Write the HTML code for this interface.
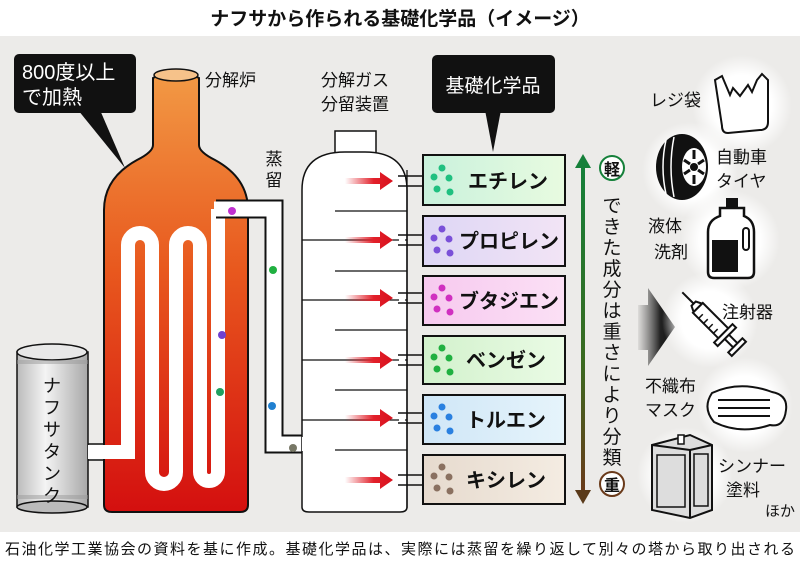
<!DOCTYPE html>
<html><head><meta charset="utf-8"><style>
html,body{margin:0;padding:0;background:#fff}
svg{display:block}
text{font-family:"Liberation Sans","Noto Sans CJK JP",sans-serif}
</style></head><body>
<svg width="800" height="563" viewBox="0 0 800 563" xmlns="http://www.w3.org/2000/svg">
<defs>
<linearGradient id="fur" x1="0" y1="0" x2="0" y2="1">
<stop offset="0" stop-color="#f29a45"/><stop offset="0.45" stop-color="#e8581e"/><stop offset="1" stop-color="#d40f0f"/></linearGradient>
<linearGradient id="tank" x1="0" y1="0" x2="1" y2="0">
<stop offset="0" stop-color="#bbb"/><stop offset="0.4" stop-color="#f4f4f4"/><stop offset="1" stop-color="#a8a8a8"/></linearGradient>
<linearGradient id="arr" x1="0" y1="0" x2="1" y2="0">
<stop offset="0" stop-color="#e2202a" stop-opacity="0"/><stop offset="0.6" stop-color="#e2202a"/><stop offset="1" stop-color="#d8101c"/></linearGradient>
<linearGradient id="gb" x1="0" y1="0" x2="0" y2="1">
<stop offset="0" stop-color="#15803a"/><stop offset="0.6" stop-color="#3a6a20"/><stop offset="1" stop-color="#6a3a1a"/></linearGradient>
<linearGradient id="dk" x1="0" y1="0" x2="1" y2="0">
<stop offset="0" stop-color="#555" stop-opacity="0.1"/><stop offset="0.6" stop-color="#222"/><stop offset="1" stop-color="#111"/></linearGradient>
<linearGradient id="b1" x1="0" y1="0" x2="1" y2="0"><stop offset="0" stop-color="#c9f1dc"/><stop offset="1" stop-color="#e8fbe0"/></linearGradient>
<linearGradient id="b2" x1="0" y1="0" x2="1" y2="0"><stop offset="0" stop-color="#ddd6f5"/><stop offset="1" stop-color="#f2e4f5"/></linearGradient>
<linearGradient id="b3" x1="0" y1="0" x2="1" y2="0"><stop offset="0" stop-color="#f7c9ef"/><stop offset="1" stop-color="#fbe0f5"/></linearGradient>
<linearGradient id="b4" x1="0" y1="0" x2="1" y2="0"><stop offset="0" stop-color="#d2f1cc"/><stop offset="1" stop-color="#eafbe5"/></linearGradient>
<linearGradient id="b5" x1="0" y1="0" x2="1" y2="0"><stop offset="0" stop-color="#cfe6f7"/><stop offset="1" stop-color="#e6f4fb"/></linearGradient>
<linearGradient id="b6" x1="0" y1="0" x2="1" y2="0"><stop offset="0" stop-color="#e6dace"/><stop offset="1" stop-color="#f4ece2"/></linearGradient>
<radialGradient id="blob"><stop offset="0.6" stop-color="#fff"/><stop offset="1" stop-color="#fff" stop-opacity="0"/></radialGradient>
</defs>
<rect width="800" height="563" fill="#fff"/>
<rect x="0" y="36" width="800" height="496" fill="#ecebe9"/>
<text x="400" y="25" font-size="19" font-weight="bold" text-anchor="middle" fill="#111">ナフサから作られる基礎化学品（イメージ）</text>

<!-- callout 800 -->
<rect x="14" y="54" width="122" height="59" rx="5" fill="#111"/>
<polygon points="78,110 100,110 125,168" fill="#111"/>
<text x="22" y="79" font-size="20" fill="#fff">800度以上</text>
<text x="22" y="104" font-size="20" fill="#fff">で加熱</text>

<!-- furnace -->
<path d="M153,78 Q176,66 199,78 L199,145 Q199,152 215,160 Q248,178 248,210 L248,505 Q248,512 240,512 L112,512 Q104,512 104,505 L104,210 Q104,178 137,160 Q153,152 153,145 Z" fill="url(#fur)" stroke="#111" stroke-width="2"/>
<ellipse cx="176" cy="75" rx="22" ry="6" fill="#f6c28a" stroke="#111" stroke-width="1.5"/>
<text x="205" y="86" font-size="17" fill="#111">分解炉</text>

<!-- coil -->
<path d="M88,452 H128 V245 A12,12 0 0 1 152,245 V472 A12,12 0 0 0 176,472 V245 A12,12 0 0 1 200,245 V472 A9,9 0 0 0 218,472 V209" fill="none" stroke="#fff" stroke-width="14"/>
<path d="M216,209 H274 V444 H312" fill="none" stroke="#111" stroke-width="19"/>
<path d="M214,209 H274 V444 H312" fill="none" stroke="#fff" stroke-width="15"/>

<!-- tank -->
<rect x="17" y="352" width="71" height="155" fill="url(#tank)" stroke="#111" stroke-width="1.5"/>
<ellipse cx="52" cy="352" rx="35" ry="8" fill="#e8e8e8" stroke="#111" stroke-width="1.5"/>
<rect x="17" y="360" width="71" height="4" fill="#999" opacity="0.5"/>
<rect x="17" y="495" width="71" height="4" fill="#999" opacity="0.5"/>
<ellipse cx="52" cy="507" rx="35" ry="6" fill="#bbb" stroke="#111" stroke-width="1.5"/>
<text font-size="18" fill="#111" text-anchor="middle">
<tspan x="52" y="392">ナ</tspan><tspan x="52" y="414">フ</tspan><tspan x="52" y="436">サ</tspan><tspan x="52" y="458">タ</tspan><tspan x="52" y="480">ン</tspan><tspan x="52" y="502">ク</tspan></text>
<rect x="88" y="445" width="20" height="14" fill="#fff"/>
<line x1="88" y1="444" x2="104" y2="444" stroke="#111" stroke-width="1.5"/>
<line x1="88" y1="460" x2="104" y2="460" stroke="#111" stroke-width="1.5"/>

<!-- dots on pipe -->
<circle cx="232" cy="211" r="4" fill="#c030d0"/>
<circle cx="273" cy="270" r="4" fill="#20b040"/>
<circle cx="222" cy="335" r="4" fill="#7040d0"/>
<circle cx="220" cy="392" r="4" fill="#20a060"/>
<circle cx="272" cy="406" r="4" fill="#2080d0"/>
<circle cx="293" cy="448" r="4" fill="#776"/>

<text font-size="17" fill="#111" text-anchor="middle"><tspan x="274" y="165">蒸</tspan><tspan x="274" y="186">留</tspan></text>

<!-- column -->
<text x="355" y="86" font-size="17" fill="#111" text-anchor="middle">分解ガス</text>
<text x="355" y="110" font-size="17" fill="#111" text-anchor="middle">分留装置</text>
<rect x="335" y="131" width="41" height="22" fill="#fff" stroke="#111" stroke-width="1.5"/>
<path d="M302,190 Q302,152 345,152 L365,152 Q407,152 407,190 L407,507 Q407,512 400,512 L309,512 Q302,512 302,507 Z" fill="#fff" stroke="#111" stroke-width="1.5"/>
<g stroke="#111" stroke-width="1.3">
<line x1="302" y1="240" x2="407" y2="240"/><line x1="302" y1="300" x2="407" y2="300"/>
<line x1="302" y1="360" x2="407" y2="360"/><line x1="302" y1="420" x2="407" y2="420"/>
<line x1="335" y1="211" x2="407" y2="211"/><line x1="335" y1="271" x2="407" y2="271"/>
<line x1="335" y1="330" x2="407" y2="330"/><line x1="335" y1="390" x2="407" y2="390"/>
<line x1="335" y1="450" x2="407" y2="450"/>
<line x1="407" y1="170" x2="407" y2="508"/>
</g>
<rect x="302" y="437" width="10" height="14" fill="#fff"/>
<g fill="url(#arr)">
<polygon points="345,178 380,178 380,172 393,181 380,190 380,184 345,184"/>
<polygon points="345,237 380,237 380,231 393,240 380,249 380,243 345,243"/>
<polygon points="345,295 380,295 380,289 393,298 380,307 380,301 345,301"/>
<polygon points="345,357 380,357 380,351 393,360 380,369 380,363 345,363"/>
<polygon points="345,415 380,415 380,409 393,418 380,427 380,421 345,421"/>
<polygon points="345,477 380,477 380,471 393,480 380,489 380,483 345,483"/>
</g>
<g stroke="#111" stroke-width="1.5">
<line x1="398" y1="176" x2="423" y2="176"/><line x1="398" y1="186" x2="423" y2="186"/>
<line x1="398" y1="235" x2="423" y2="235"/><line x1="398" y1="245" x2="423" y2="245"/>
<line x1="398" y1="293" x2="423" y2="293"/><line x1="398" y1="303" x2="423" y2="303"/>
<line x1="398" y1="355" x2="423" y2="355"/><line x1="398" y1="365" x2="423" y2="365"/>
<line x1="398" y1="413" x2="423" y2="413"/><line x1="398" y1="423" x2="423" y2="423"/>
<line x1="398" y1="475" x2="423" y2="475"/><line x1="398" y1="485" x2="423" y2="485"/>
</g>
<g fill="#fff"><rect x="399" y="177" width="6" height="8"/><rect x="399" y="236" width="6" height="8"/><rect x="399" y="294" width="6" height="8"/><rect x="399" y="356" width="6" height="8"/><rect x="399" y="414" width="6" height="8"/><rect x="399" y="476" width="6" height="8"/></g>

<!-- callout 基礎化学品 -->
<rect x="432" y="55" width="123" height="58" rx="5" fill="#111"/>
<polygon points="485,110 501,110 493,152" fill="#111"/>
<text x="493" y="92" font-size="19" fill="#fff" text-anchor="middle">基礎化学品</text>

<!-- boxes -->
<g stroke="#111" stroke-width="2">
<rect x="423" y="155" width="142" height="50" fill="url(#b1)"/>
<rect x="423" y="216" width="142" height="50" fill="url(#b2)"/>
<rect x="423" y="276" width="142" height="49" fill="url(#b3)"/>
<rect x="423" y="336" width="142" height="48" fill="url(#b4)"/>
<rect x="423" y="395" width="142" height="49" fill="url(#b5)"/>
<rect x="423" y="455" width="142" height="49" fill="url(#b6)"/>
</g>
<g font-size="20" font-weight="bold" fill="#111">
<text x="468" y="188">エチレン</text>
<text x="459" y="248">プロピレン</text>
<text x="459" y="308">ブタジエン</text>
<text x="466" y="367">ベンゼン</text>
<text x="466" y="427">トルエン</text>
<text x="466" y="487">キシレン</text>
</g>
<g fill="#20c080"><circle cx="442" cy="168" r="3.5"/><circle cx="434" cy="177" r="3.5"/><circle cx="449" cy="178" r="3.5"/><circle cx="437" cy="189" r="3.5"/><circle cx="450" cy="192" r="3.5"/></g>
<g fill="#7a50d8"><circle cx="442" cy="229" r="3.5"/><circle cx="434" cy="238" r="3.5"/><circle cx="449" cy="239" r="3.5"/><circle cx="437" cy="250" r="3.5"/><circle cx="450" cy="253" r="3.5"/></g>
<g fill="#d030c0"><circle cx="442" cy="288" r="3.5"/><circle cx="434" cy="297" r="3.5"/><circle cx="449" cy="298" r="3.5"/><circle cx="437" cy="309" r="3.5"/><circle cx="450" cy="312" r="3.5"/></g>
<g fill="#20b040"><circle cx="442" cy="348" r="3.5"/><circle cx="434" cy="357" r="3.5"/><circle cx="449" cy="358" r="3.5"/><circle cx="437" cy="369" r="3.5"/><circle cx="450" cy="372" r="3.5"/></g>
<g fill="#2a80e0"><circle cx="442" cy="407" r="3.5"/><circle cx="434" cy="416" r="3.5"/><circle cx="449" cy="417" r="3.5"/><circle cx="437" cy="428" r="3.5"/><circle cx="450" cy="431" r="3.5"/></g>
<g fill="#8a7060"><circle cx="442" cy="467" r="3.5"/><circle cx="434" cy="476" r="3.5"/><circle cx="449" cy="477" r="3.5"/><circle cx="437" cy="488" r="3.5"/><circle cx="450" cy="491" r="3.5"/></g>

<!-- weight arrow -->
<rect x="581" y="166" width="4" height="326" fill="url(#gb)"/>
<polygon points="575,168 583,154 591,168" fill="#15803a"/>
<polygon points="575,490 583,504 591,490" fill="#5a3a1a"/>
<circle cx="612" cy="168" r="12" fill="#fff" stroke="#15803a" stroke-width="2"/>
<text x="612" y="175" font-size="16" font-weight="bold" text-anchor="middle" fill="#111">軽</text>
<circle cx="612" cy="484" r="12" fill="#fff" stroke="#6a3a1a" stroke-width="2"/>
<text x="612" y="491" font-size="16" font-weight="bold" text-anchor="middle" fill="#111">重</text>
<text font-size="19" fill="#111" text-anchor="middle">
<tspan x="612" y="212">で</tspan><tspan x="612" y="233">き</tspan><tspan x="612" y="254">た</tspan><tspan x="612" y="275">成</tspan><tspan x="612" y="296">分</tspan><tspan x="612" y="317">は</tspan><tspan x="612" y="338">重</tspan><tspan x="612" y="359">さ</tspan><tspan x="612" y="380">に</tspan><tspan x="612" y="401">よ</tspan><tspan x="612" y="422">り</tspan><tspan x="612" y="443">分</tspan><tspan x="612" y="464">類</tspan></text>

<!-- dark arrow -->
<polygon points="638,305 648,305 648,288 675,327 648,366 648,350 638,350" fill="url(#dk)"/>

<!-- blobs -->
<g fill="url(#blob)">
<circle cx="742" cy="105" r="50"/><circle cx="690" cy="170" r="48"/><circle cx="730" cy="240" r="50"/>
<circle cx="710" cy="320" r="48"/><circle cx="745" cy="405" r="48"/><circle cx="685" cy="475" r="48"/>
</g>

<!-- icons -->
<path d="M715,80 L722,76 L730,95 L733,88 L740,96 L748,85 L752,92 L757,80 L762,74 L768,80 L768,122 Q768,130 760,130 L728,133 Q722,133 722,126 Z" fill="#fff" stroke="#111" stroke-width="2"/>
<text x="650" y="106" font-size="17" fill="#111">レジ袋</text>

<ellipse cx="682" cy="167" rx="26" ry="33" fill="#111"/>
<path d="M666,140 Q660,167 666,194" fill="none" stroke="#fff" stroke-width="1.5"/>
<path d="M674,137 Q668,167 674,197" fill="none" stroke="#fff" stroke-width="1.5"/>
<ellipse cx="694" cy="167" rx="12" ry="19" fill="#fff"/>
<circle cx="694" cy="167" r="4" fill="#111"/>
<g stroke="#111" stroke-width="3"><line x1="694" y1="150" x2="694" y2="159"/><line x1="694" y1="175" x2="694" y2="184"/><line x1="684" y1="160" x2="690" y2="164"/><line x1="698" y1="170" x2="704" y2="174"/><line x1="684" y1="174" x2="690" y2="170"/><line x1="698" y1="164" x2="704" y2="160"/></g>
<text x="716" y="163" font-size="17" fill="#111">自動車</text>
<text x="716" y="187" font-size="17" fill="#111">タイヤ</text>

<rect x="726" y="198" width="12" height="9" fill="#111"/>
<path d="M720,208 L744,208 L744,216 Q754,220 754,232 L754,272 Q754,278 748,278 L714,278 Q708,278 708,272 L708,232 Q708,220 720,216 Z" fill="#fff" stroke="#111" stroke-width="2.5"/>
<rect x="712" y="240" width="26" height="32" fill="#111"/>
<rect x="743" y="228" width="6" height="22" rx="3" fill="none" stroke="#111" stroke-width="2"/>
<text x="648" y="232" font-size="17" fill="#111">液体</text>
<text x="654" y="258" font-size="17" fill="#111">洗剤</text>

<g transform="rotate(-45 712 322)" fill="#fff" stroke="#111" stroke-width="2">
<line x1="712" y1="280" x2="712" y2="296"/>
<path d="M706,302 L709,296 L715,296 L718,302 Z"/>
<rect x="705" y="302" width="14" height="36"/>
<g stroke-width="1.5"><line x1="705" y1="310" x2="711" y2="310"/><line x1="705" y1="317" x2="711" y2="317"/><line x1="705" y1="324" x2="711" y2="324"/><line x1="705" y1="331" x2="711" y2="331"/></g>
<rect x="699" y="338" width="26" height="5"/>
<rect x="709" y="343" width="6" height="12"/>
<rect x="702" y="355" width="20" height="5"/>
</g>
<text x="722" y="318" font-size="17" fill="#111">注射器</text>

<path d="M712,393 Q740,380 772,392 Q788,395 786,410 Q784,428 770,425 Q740,435 714,422 Q702,408 712,393 Z" fill="#fff" stroke="#111" stroke-width="2"/>
<g stroke="#111" stroke-width="2"><line x1="718" y1="400" x2="770" y2="400"/><line x1="718" y1="408" x2="770" y2="408"/><line x1="718" y1="416" x2="770" y2="416"/></g>
<text x="645" y="392" font-size="17" fill="#111">不織布</text>
<text x="645" y="416" font-size="17" fill="#111">マスク</text>

<path d="M652,445 L690,435 L712,445 L712,510 L690,518 L652,510 Z" fill="#ddd" stroke="#111" stroke-width="2"/>
<line x1="690" y1="450" x2="690" y2="518" stroke="#111" stroke-width="2"/>
<line x1="652" y1="445" x2="690" y2="450" stroke="#111" stroke-width="2"/>
<line x1="690" y1="450" x2="712" y2="445" stroke="#111" stroke-width="2"/>
<rect x="657" y="455" width="28" height="52" fill="none" stroke="#111" stroke-width="1.5"/>
<rect x="694" y="454" width="14" height="52" fill="none" stroke="#111" stroke-width="1.5"/>
<rect x="678" y="435" width="6" height="9" fill="#fff" stroke="#111" stroke-width="1.5"/>
<text x="718" y="472" font-size="17" fill="#111">シンナー</text>
<text x="726" y="496" font-size="17" fill="#111">塗料</text>
<text x="765" y="516" font-size="15" fill="#111">ほか</text>

<text x="400" y="554" font-size="15" fill="#111" text-anchor="middle" textLength="790">石油化学工業協会の資料を基に作成。基礎化学品は、実際には蒸留を繰り返して別々の塔から取り出される</text>
</svg>
</body></html>
